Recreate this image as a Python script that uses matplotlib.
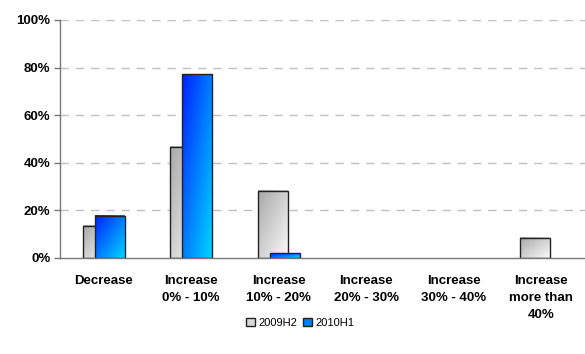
import numpy as np
import matplotlib
matplotlib.use("Agg")
import matplotlib.pyplot as plt
from matplotlib.colors import LinearSegmentedColormap
from matplotlib.patches import Patch

categories = ["Decrease", "Increase\n0% - 10%", "Increase\n10% - 20%",
              "Increase\n20% - 30%", "Increase\n30% - 40%", "Increase\nmore than\n40%"]
h2009 = [13.5, 46.8, 28.2, 0, 0, 8.5]
h2010 = [17.8, 77.2, 2.0, 0, 0, 0]
series_names = ["2009H2", "2010H1"]

plt.rcParams["font.family"] = ["Liberation Sans", "DejaVu Sans"]

fig = plt.figure(figsize=(5.85, 3.54), dpi=100)
ax = fig.add_axes([60 / 585, (354 - 258) / 354, 525 / 585, 238 / 354])

gray_cmap = LinearSegmentedColormap.from_list("g", ["#a8a8a8", "#fafafa"])
blue_cmap = LinearSegmentedColormap.from_list("b", ["#0020ff", "#00d4ff"])

# diagonal gradient: dark at top-left, light at bottom-right
gx, gy = np.meshgrid(np.linspace(0, 1, 40), np.linspace(0, 1, 80))
grad = (gx + gy) / 2

width = 0.34
offset = 0.137
x = np.arange(len(categories))


def grad_bar(xc, h, cmap, z):
    if h <= 0:
        return
    x0, x1 = xc - width / 2, xc + width / 2
    ax.imshow(grad, cmap=cmap, extent=(x0, x1, 0, h), aspect="auto",
              origin="upper", zorder=z, interpolation="bilinear")
    ax.bar(xc, h, width, fill=False, edgecolor="#222222", linewidth=1.0, zorder=z + 0.5)


for i in range(len(categories)):
    grad_bar(x[i] - offset / 2, h2009[i], gray_cmap, 2)
for i in range(len(categories)):
    grad_bar(x[i] + offset / 2, h2010[i], blue_cmap, 3)

ax.set_xlim(-0.5, 5.5)
ax.set_ylim(0, 100)
ax.set_yticks(np.arange(0, 101, 20))
ax.set_yticklabels([f"{v}%" for v in range(0, 101, 20)], fontsize=9.5, fontweight="bold")
ax.set_xticks(x)
ax.set_xticklabels(categories, fontsize=9.5, fontweight="bold", linespacing=1.6)
ax.tick_params(axis="x", length=0, pad=12)
ax.tick_params(axis="y", length=4, color="#777777", width=1, pad=3)

for v in range(20, 101, 20):
    ax.axhline(v, color="#c0c0c0", linestyle=(0, (6, 5)), linewidth=1, zorder=1)

for s in ["top", "right"]:
    ax.spines[s].set_visible(False)
ax.spines["left"].set_color("#777777")
ax.spines["bottom"].set_color("#777777")
ax.spines["left"].set_linewidth(1)
ax.spines["bottom"].set_linewidth(1)
ax.spines["bottom"].set_zorder(5)

handles = [Patch(facecolor="#d8d8d8", edgecolor="#222222", label=series_names[0]),
           Patch(facecolor="#0080ff", edgecolor="#222222", label=series_names[1])]
fig.legend(handles=handles, loc="center", bbox_to_anchor=(300 / 585, 1 - 323 / 354),
           ncol=2, frameon=False, fontsize=8, handlelength=0.8, handleheight=0.8,
           handletextpad=0.3, columnspacing=0.5)

fig.savefig("out.png", dpi=100)
